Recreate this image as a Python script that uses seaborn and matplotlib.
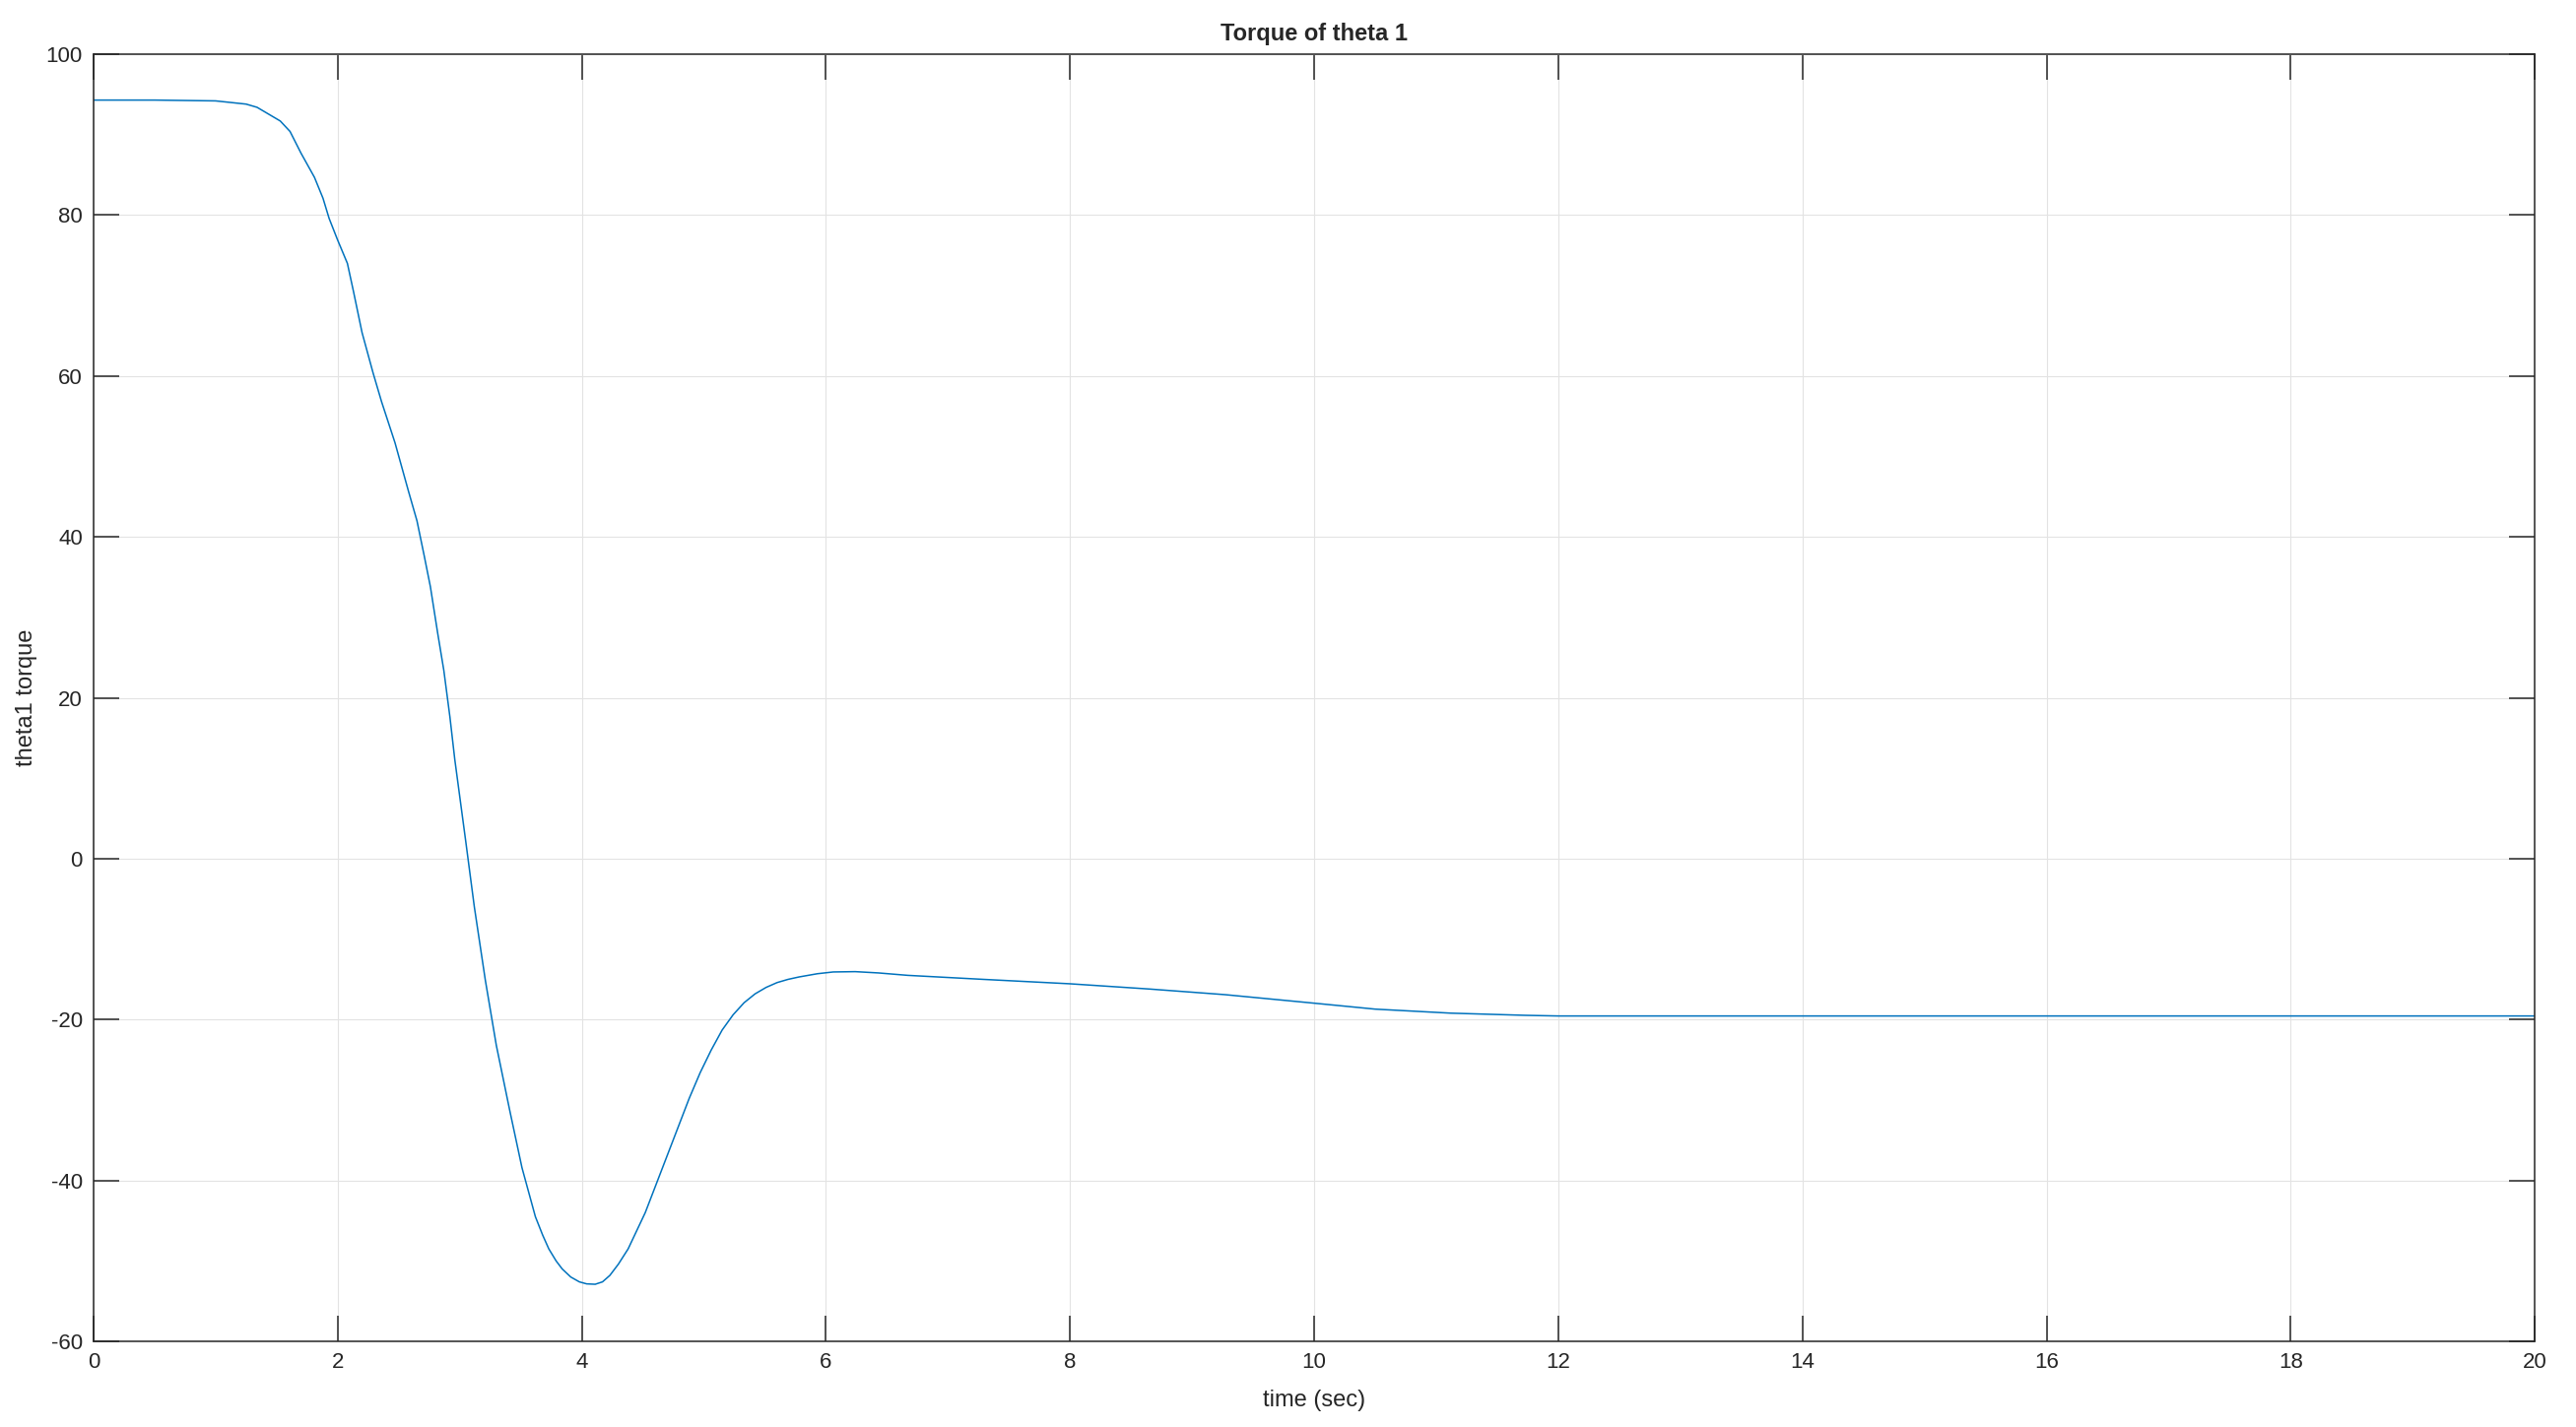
import matplotlib
matplotlib.use("Agg")
import matplotlib.pyplot as plt
import seaborn as sns
import pandas as pd

# values
time_s = [0.0, 0.5, 1.0, 1.25, 1.34, 1.53, 1.61, 1.70, 1.81, 1.88, 1.93, 2.0,
          2.08, 2.13, 2.20, 2.29, 2.36, 2.47, 2.58, 2.65, 2.71, 2.76, 2.82,
          2.87, 2.92, 2.96, 3.05, 3.12, 3.21, 3.30, 3.41, 3.51, 3.62, 3.68,
          3.73, 3.79, 3.84, 3.91, 3.98, 4.04, 4.11, 4.17, 4.23, 4.30, 4.38,
          4.52, 4.70, 4.88, 4.97, 5.06, 5.15, 5.24, 5.33, 5.42, 5.51, 5.60,
          5.69, 5.78, 5.93, 6.06, 6.24, 6.43, 6.67, 7.29, 8.0, 8.65, 9.27,
          10.0, 10.5, 11.12, 11.73, 12.0, 14.0, 16.0, 18.0, 20.0]
torque = [94.3, 94.3, 94.2, 93.8, 93.4, 91.7, 90.4, 87.7, 84.7, 82.1, 79.6, 76.9,
          74.0, 70.5, 65.4, 60.4, 56.8, 51.7, 45.7, 42.0, 37.6, 33.8, 28.0,
          23.4, 17.6, 12.3, 2.1, -6.0, -15.1, -23.2, -31.3, -38.4, -44.5, -46.8,
          -48.5, -50.0, -51.0, -52.0, -52.6, -52.85, -52.9, -52.6, -51.8, -50.4, -48.5,
          -44.0, -36.9, -29.8, -26.6, -23.8, -21.3, -19.4, -17.9, -16.8, -16.0, -15.4,
          -15.0, -14.7, -14.3, -14.08, -14.04, -14.2, -14.5, -15.0, -15.55, -16.2, -16.9,
          -17.96, -18.7, -19.2, -19.47, -19.55, -19.55, -19.55, -19.55, -19.55]

x_ticks = list(range(0, 21, 2))
y_ticks = list(range(-60, 101, 20))

df = pd.DataFrame({"time": time_s, "torque": torque})

sns.set_theme(style="white")
plt.rcParams["font.family"] = ["Liberation Sans", "DejaVu Sans"]
plt.rcParams["axes.unicode_minus"] = False

fig = plt.figure(figsize=(26.15, 14.49), dpi=100)
ax = fig.add_axes([0.0363, 0.06, 0.9477, 0.902])

sns.lineplot(data=df, x="time", y="torque", ax=ax, color="#0072BD",
             linewidth=1.1, estimator=None, sort=False)

ax.set_xlim(0, 20)
ax.set_ylim(-60, 100)
ax.set_xticks(x_ticks)
ax.set_yticks(y_ticks)

# matlab-like box, inward ticks on all sides
ax.grid(True, color="#e3e3e3", linewidth=0.8)
ax.tick_params(direction="in", length=19, width=1.1, color="#262626",
               labelcolor="#262626", labelsize=16, pad=8,
               bottom=True, top=True, left=True, right=True)
for s in ax.spines.values():
    s.set_color("#262626")
    s.set_linewidth(1.1)

ax.set_title("Torque of theta 1", fontsize=17, fontweight="bold", pad=10)
ax.set_xlabel("time (sec)", fontsize=17, color="#262626", labelpad=12)
ax.set_ylabel("theta1 torque", fontsize=17, color="#262626", labelpad=6)

fig.savefig("out.png", dpi=100)
